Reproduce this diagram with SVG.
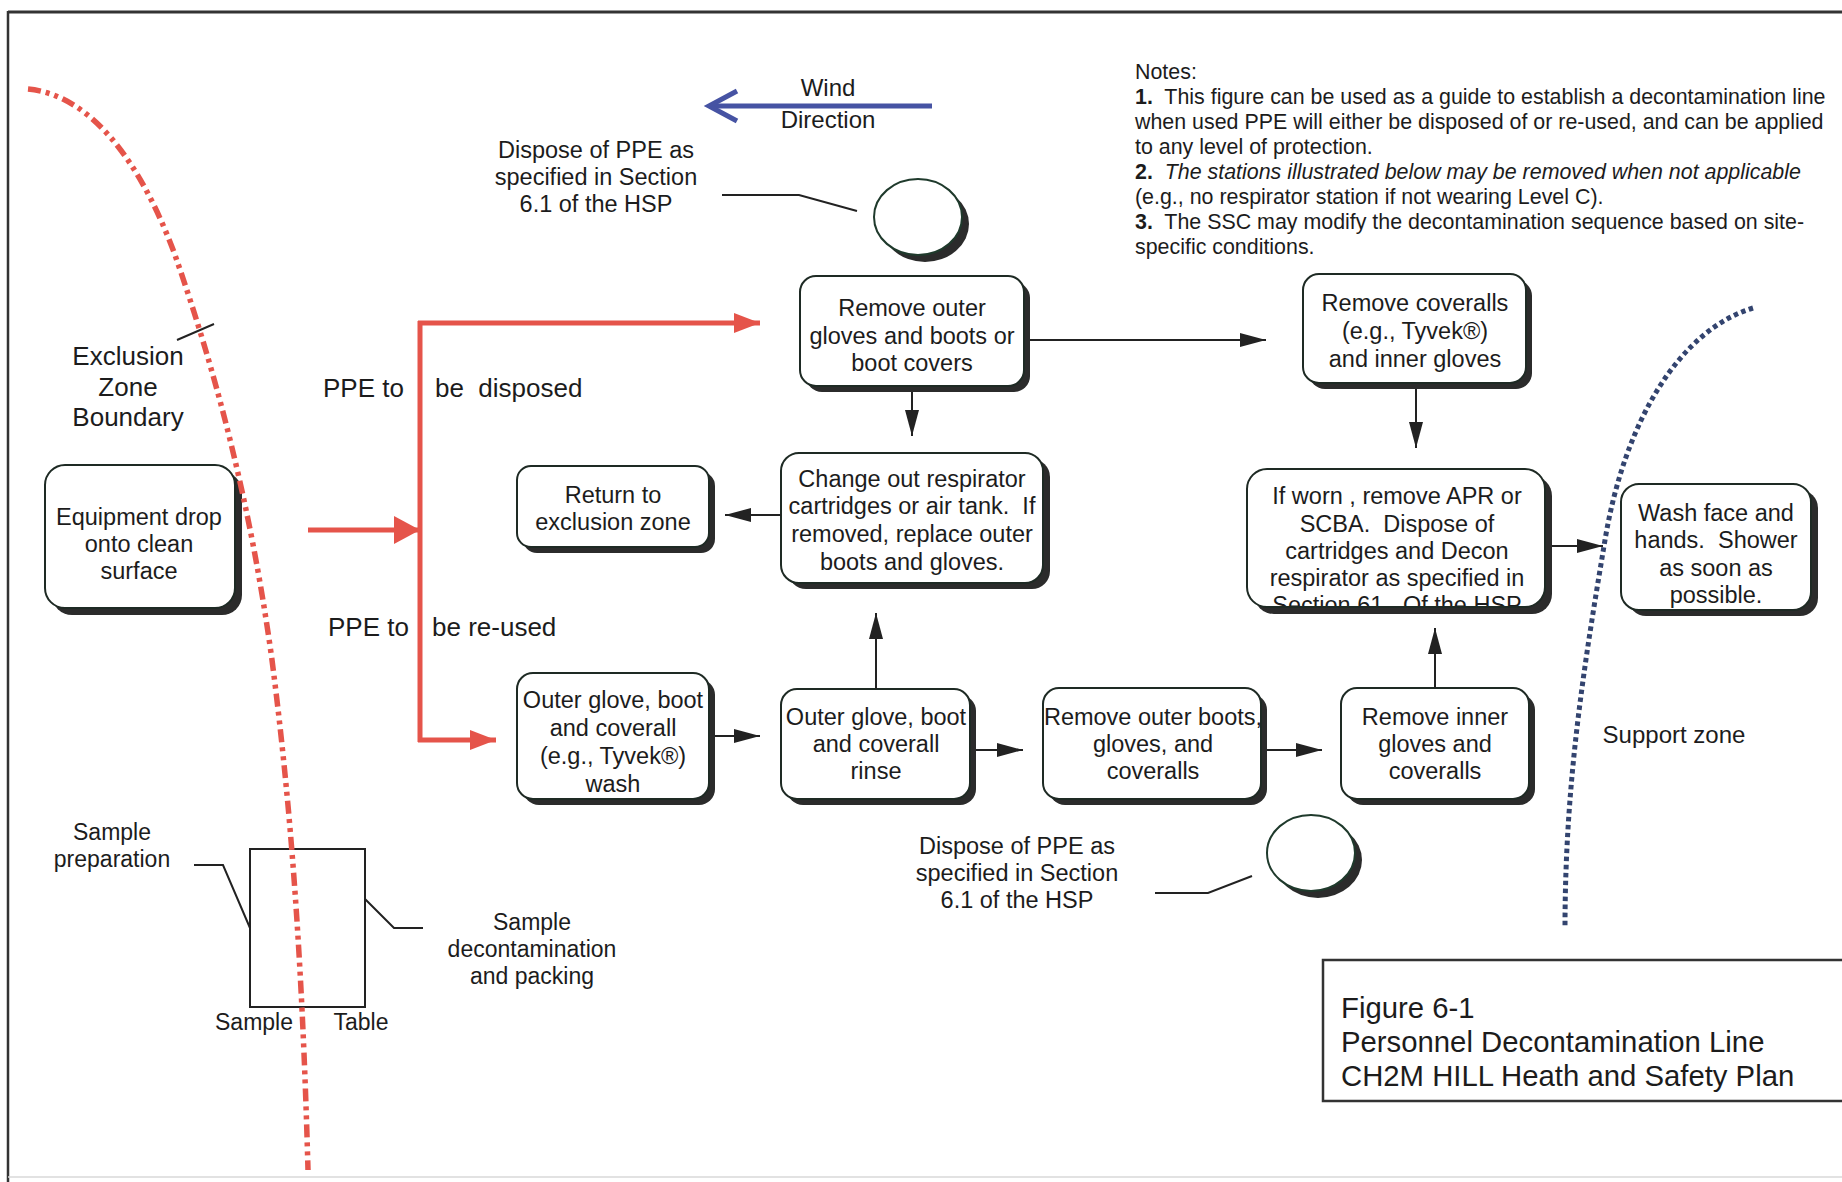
<svg xmlns="http://www.w3.org/2000/svg" width="1842" height="1182" viewBox="0 0 1842 1182" xml:space="preserve">
<defs>
<style>
text{font-family:"Liberation Sans",Arial,sans-serif;fill:#1c1c1c;white-space:pre}
.t{font-size:23.5px;text-anchor:middle}
.lbl{font-size:26px}
.note{font-size:21.4px}
.cap{font-size:29.3px}
.box{fill:#fff;stroke:#1e2a24;stroke-width:2}
.sh{fill:#2b2b2b}
.conn{stroke:#222;stroke-width:2;fill:none}
.red{stroke:#e5544a;stroke-width:5;fill:none}
.lead{stroke:#222;stroke-width:2;fill:none}
</style>
<marker id="ah" markerUnits="userSpaceOnUse" markerWidth="26" markerHeight="14" refX="26" refY="7" orient="auto"><path d="M0,0 L26,7 L0,14 z" fill="#222"/></marker>
<marker id="ahr" markerUnits="userSpaceOnUse" markerWidth="26" markerHeight="20" refX="26" refY="10" orient="auto"><path d="M0,0 L26,10 L0,20 z" fill="#e5544a"/></marker>
<marker id="ahrb" markerUnits="userSpaceOnUse" markerWidth="26" markerHeight="28" refX="26" refY="14" orient="auto"><path d="M0,0 L26,14 L0,28 z" fill="#e5544a"/></marker>
<clipPath id="clipWorn"><rect x="1248" y="470" width="296" height="136"/></clipPath>
</defs>
<rect width="1842" height="1182" fill="#fff"/>
<g id="frame">
<line x1="8" y1="12" x2="1842" y2="12" stroke="#333" stroke-width="3"/>
<line x1="8" y1="11" x2="8" y2="1182" stroke="#333" stroke-width="2.5"/>
<line x1="8" y1="1177" x2="1842" y2="1177" stroke="#d8d8d8" stroke-width="1.5"/>
</g>
<g id="support-zone-boundary">
<path d="M1753,308 C1680,330 1625,420 1605,540 C1585,660 1565,780 1565,928" fill="none" stroke="#33446f" stroke-width="5" stroke-dasharray="4.5 3.5"/>
</g>
<g id="wind">
<path d="M932,106 H709" stroke="#4653a3" stroke-width="5" fill="none"/>
<path d="M737,91 L709,106 L737,121" stroke="#4653a3" stroke-width="5" fill="none"/>
<text x="828" y="96" style="font-size:24px" text-anchor="middle">Wind</text>
<text x="828" y="128" style="font-size:24px" text-anchor="middle">Direction</text>
</g>
<g id="notes">
<text x="1135" y="79" class="note">Notes:</text>
<text x="1135" y="104" class="note"><tspan font-weight="bold">1.</tspan>  This figure can be used as a guide to establish a decontamination line</text>
<text x="1135" y="129" class="note">when used PPE will either be disposed of or re-used, and can be applied</text>
<text x="1135" y="154" class="note">to any level of protection.</text>
<text x="1135" y="179" class="note"><tspan font-weight="bold">2.</tspan>  <tspan font-style="italic">The stations illustrated below may be removed when not applicable</tspan></text>
<text x="1135" y="204" class="note">(e.g., no respirator station if not wearing Level C).</text>
<text x="1135" y="229" class="note"><tspan font-weight="bold">3.</tspan>  The SSC may modify the decontamination sequence based on site-</text>
<text x="1135" y="254" class="note">specific conditions.</text>
</g>
<g id="dispose-top">
<text class="t" x="596" y="158">Dispose of PPE as</text>
<text class="t" x="596" y="185">specified in Section</text>
<text class="t" x="596" y="212">6.1 of the HSP</text>
<path class="lead" d="M722,195 H799 L857,211"/>
<ellipse cx="925" cy="224" rx="44" ry="38" fill="#2b2b2b"/>
<ellipse cx="918" cy="217" rx="44" ry="38" fill="#fff" stroke="#1f3a2c" stroke-width="2"/>
</g>
<g id="dispose-bottom">
<text class="t" x="1017" y="854">Dispose of PPE as</text>
<text class="t" x="1017" y="881">specified in Section</text>
<text class="t" x="1017" y="908">6.1 of the HSP</text>
<path class="lead" d="M1155,893 H1208 L1252,876"/>
<ellipse cx="1318" cy="860" rx="44" ry="38" fill="#2b2b2b"/>
<ellipse cx="1311" cy="853" rx="44" ry="38" fill="#fff" stroke="#1f3a2c" stroke-width="2"/>
</g>
<g id="labels">
<text class="lbl" x="128" y="365" text-anchor="middle">Exclusion</text>
<text class="lbl" x="128" y="396" text-anchor="middle">Zone</text>
<text class="lbl" x="128" y="426" text-anchor="middle">Boundary</text>
<text class="lbl" x="323" y="397">PPE to</text>
<text class="lbl" x="435" y="397">be  disposed</text>
<text class="lbl" x="328" y="636">PPE to</text>
<text class="lbl" x="432" y="636">be re-used</text>
<text x="1674" y="743" style="font-size:24px" text-anchor="middle">Support zone</text>
</g>
<g id="n-equipment">
<rect class="sh" x="52" y="472" width="190" height="143" rx="20"/>
<rect class="box" x="45" y="465" width="190" height="143" rx="20"/>
<text class="t"><tspan x="139" y="525">Equipment drop</tspan><tspan x="139" y="552">onto clean</tspan><tspan x="139" y="579">surface</tspan></text>
</g>
<g id="n-return">
<rect class="sh" x="523" y="472" width="192" height="81" rx="14"/>
<rect class="box" x="517" y="466" width="192" height="81" rx="14"/>
<text class="t"><tspan x="613" y="503">Return to</tspan><tspan x="613" y="530">exclusion zone</tspan></text>
</g>
<g id="n-remove-outer">
<rect class="sh" x="806" y="282" width="224" height="110" rx="16"/>
<rect class="box" x="800" y="276" width="224" height="110" rx="16"/>
<text class="t"><tspan x="912" y="316">Remove outer</tspan><tspan x="912" y="343.5">gloves and boots or</tspan><tspan x="912" y="371">boot covers</tspan></text>
</g>
<g id="n-change-out">
<rect class="sh" x="788" y="459" width="262" height="130" rx="18"/>
<rect class="box" x="781" y="453" width="262" height="130" rx="18"/>
<text class="t"><tspan x="912" y="487">Change out respirator</tspan><tspan x="912" y="514">cartridges or air tank.  If</tspan><tspan x="912" y="542">removed, replace outer</tspan><tspan x="912" y="570">boots and gloves.</tspan></text>
</g>
<g id="n-wash">
<rect class="sh" x="523" y="679" width="192" height="126" rx="16"/>
<rect class="box" x="517" y="673" width="192" height="126" rx="16"/>
<text class="t"><tspan x="613" y="708">Outer glove, boot</tspan><tspan x="613" y="736">and coverall</tspan><tspan x="613" y="764">(e.g., Tyvek®)</tspan><tspan x="613" y="792">wash</tspan></text>
</g>
<g id="n-rinse">
<rect class="sh" x="787" y="695" width="189" height="110" rx="16"/>
<rect class="box" x="781" y="689" width="189" height="110" rx="16"/>
<text class="t"><tspan x="876" y="725">Outer glove, boot</tspan><tspan x="876" y="752">and coverall</tspan><tspan x="876" y="779">rinse</tspan></text>
</g>
<g id="n-remove-outer-boots">
<rect class="sh" x="1049" y="694" width="218" height="111" rx="16"/>
<rect class="box" x="1043" y="688" width="218" height="111" rx="16"/>
<text class="t"><tspan x="1153" y="725">Remove outer boots,</tspan><tspan x="1153" y="752">gloves, and</tspan><tspan x="1153" y="779">coveralls</tspan></text>
</g>
<g id="n-remove-inner">
<rect class="sh" x="1347" y="694" width="188" height="111" rx="16"/>
<rect class="box" x="1341" y="688" width="188" height="111" rx="16"/>
<text class="t"><tspan x="1435" y="725">Remove inner</tspan><tspan x="1435" y="752">gloves and</tspan><tspan x="1435" y="779">coveralls</tspan></text>
</g>
<g id="n-if-worn">
<rect class="sh" x="1254" y="476" width="298" height="138" rx="20"/>
<rect class="box" x="1247" y="469" width="298" height="138" rx="20"/>
<text class="t" clip-path="url(#clipWorn)"><tspan x="1397" y="504">If worn , remove APR or</tspan><tspan x="1397" y="532">SCBA.  Dispose of</tspan><tspan x="1397" y="559">cartridges and Decon</tspan><tspan x="1397" y="586">respirator as specified in</tspan><tspan x="1397" y="613">Section 61.  Of the HSP</tspan></text>
</g>
<g id="n-wash-face">
<rect class="sh" x="1628" y="490" width="190" height="126" rx="18"/>
<rect class="box" x="1621" y="484" width="190" height="126" rx="18"/>
<text class="t"><tspan x="1716" y="521">Wash face and</tspan><tspan x="1716" y="548">hands.  Shower</tspan><tspan x="1716" y="576">as soon as</tspan><tspan x="1716" y="603">possible.</tspan></text>
</g>
<g id="n-remove-coveralls">
<rect class="sh" x="1309" y="280" width="223" height="109" rx="16"/>
<rect class="box" x="1303" y="274" width="223" height="109" rx="16"/>
<text class="t"><tspan x="1415" y="311">Remove coveralls</tspan><tspan x="1415" y="339">(e.g., Tyvek®)</tspan><tspan x="1415" y="367">and inner gloves</tspan></text>
</g>
<g id="sample-table">
<rect x="250" y="849" width="115" height="158" fill="none" stroke="#222" stroke-width="2"/>
<path class="lead" d="M194,865 H223 L250,928"/>
<path class="lead" d="M423,928 H394 L365,899"/>
<text class="t" x="112" y="840" style="font-size:23px">Sample</text>
<text class="t" x="112" y="867" style="font-size:23px">preparation</text>
<text class="t" x="532" y="930" style="font-size:23px">Sample</text>
<text class="t" x="532" y="957" style="font-size:23px">decontamination</text>
<text class="t" x="532" y="984" style="font-size:23px">and packing</text>
<text class="t" x="254" y="1030" style="font-size:23px">Sample</text>
<text class="t" x="361" y="1030" style="font-size:23px">Table</text>
</g>
<g id="connectors">
<path class="conn" d="M1030,340 H1266" marker-end="url(#ah)"/>
<path class="conn" d="M912,392 V436" marker-end="url(#ah)"/>
<path class="conn" d="M781,515 H725" marker-end="url(#ah)"/>
<path class="conn" d="M876,689 V613" marker-end="url(#ah)"/>
<path class="conn" d="M715,736 H760" marker-end="url(#ah)"/>
<path class="conn" d="M976,750 H1023" marker-end="url(#ah)"/>
<path class="conn" d="M1267,750 H1322" marker-end="url(#ah)"/>
<path class="conn" d="M1435,688 V628" marker-end="url(#ah)"/>
<path class="conn" d="M1416,389 V448" marker-end="url(#ah)"/>
<path class="conn" d="M1552,546 H1603" marker-end="url(#ah)"/>
<path class="red" d="M308,530 H420" marker-end="url(#ahrb)"/>
<path class="red" d="M420,321 V742"/>
<path class="red" d="M418,323 H760" marker-end="url(#ahr)"/>
<path class="red" d="M418,740 H496" marker-end="url(#ahr)"/>
</g>
<g id="exclusion-zone-boundary">
<path d="M28,89 C90,95 140,160 175,255 C215,370 250,500 272,660 C290,800 302,950 308,1170" fill="none" stroke="#e5544a" stroke-width="5.5" stroke-dasharray="13 5 4 5 4 5"/>
<line x1="177" y1="340" x2="214" y2="324" stroke="#222" stroke-width="2"/>
</g>
<g id="caption">
<path d="M1842,960 H1323 V1101 H1842" fill="none" stroke="#333" stroke-width="2.5"/>
<text class="cap" x="1341" y="1018">Figure 6-1</text>
<text class="cap" x="1341" y="1052">Personnel Decontamination Line</text>
<text class="cap" x="1341" y="1086">CH2M HILL Heath and Safety Plan</text>
</g>
</svg>
